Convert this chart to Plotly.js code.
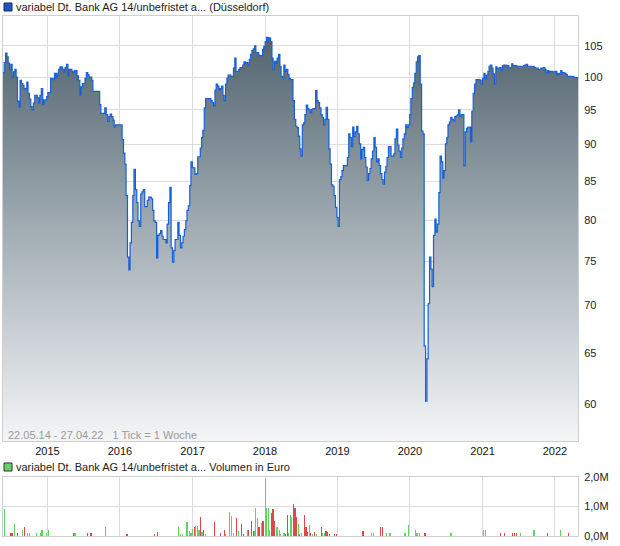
<!DOCTYPE html>
<html>
<head>
<meta charset="utf-8">
<script src="https://cdn.plot.ly/plotly-3.0.1.min.js"></script>
<style>
  html, body { margin: 0; padding: 0; background: #ffffff; }
  #chart { width: 620px; height: 546px; }
</style>
</head>
<body>
<div id="chart"></div>
<script>
// ---- Data ----
const startDate = '2014-05-22';
const endDate = '2022-04-27';

// weekly closing prices, split into consecutive stretches
const price2014to2015 = [
  100.7,102.3,103.8,103.2,102.2,101.2,102.0,100.0,100.8,101.2,
  100.0,96.3,95.4,99.5,99.0,98.7,98.2,98.2,99.2,97.5,
  96.6,95.5,95.0,96.0,97.2,97.2,96.8,96.0,97.2,98.2,
  95.8,96.5,96.5,97.0,97.6,97.6,99.8,99.8,99.6,100.6,
  100.0,100.6,101.2,101.6,101.6,101.2,100.8,101.5,102.0,100.2,
  101.2,101.2,100.9,100.7,101.0,101.0,100.2,99.5,97.2,98.5,
  99.0,99.0,99.8,100.7,100.4,100.0,100.0,99.5,97.8,97.8,
  97.8,97.8,97.8,95.8,94.5,94.5,94.5,95.3,94.3,93.3,
  94.0,94.4,94.0,93.5,92.5
];
const price2015to2017 = [
  92.8,92.8,92.8,92.8,92.8,90.7,88.8,87.3,83.1,75.5,
  74.0,77.2,79.7,83.1,86.6,83.9,82.2,79.9,79.2,83.3,
  83.6,83.9,81.7,81.7,82.5,82.9,82.9,82.7,81.2,79.9,
  79.7,75.4,78.1,78.3,78.7,78.0,77.6,77.6,77.2,79.5,
  82.2,84.2,76.6,74.9,76.3,77.6,77.6,79.7,78.1,76.6,
  77.2,78.0,78.8,79.9,81.2,81.8,84.4,87.6,86.8,86.8,
  85.9,86.0,88.3,88.3,89.5,91.0,92.0,95.3,96.7,96.7,
  96.7,96.7,96.4,96.1,95.6,98.0,98.9,98.6,98.0,98.2,
  98.6,97.2,96.4,98.9,99.8,100.3,100.3
];
const price2017to2019 = [
  100.1,100.1,101.4,103.0,100.9,100.9,101.2,101.5,101.5,101.9,
  102.4,102.2,102.3,101.9,102.8,103.6,104.2,104.5,105.0,103.8,
  103.9,103.5,103.4,103.4,104.4,104.9,105.7,106.4,106.1,106.3,
  105.7,103.0,101.2,102.5,102.2,103.0,103.6,101.7,100.1,99.9,
  101.9,100.9,101.2,100.4,99.8,99.6,99.6,96.4,93.6,92.6,
  92.4,91.2,89.4,88.4,92.8,93.1,94.3,95.7,95.2,95.0,
  94.6,95.1,95.2,95.2,97.9,96.4,96.1,95.3,94.3,93.9,
  92.8,93.6,95.4,93.6,89.4,87.3,84.5,84.3,83.1,81.6,
  80.3,79.2,85.2,85.6,86.4,87.1,87.1
];
const price2019to2020 = [
  87.1,88.2,91.5,91.0,89.7,92.5,91.1,91.8,92.6,91.5,
  90.1,88.0,89.3,89.6,88.2,86.9,85.1,86.0,86.7,88.0,
  89.1,91.0,89.6,87.6,88.0,87.1,86.0,85.2,84.6,86.2,
  87.0,88.2,89.7,89.7,88.4,88.4,88.7,90.8,92.2,89.9,
  89.1,88.2,89.5,90.8,91.5,92.8,92.4,92.8,94.3,96.7,
  98.4,99.1,100.6,102.4,103.2,103.4,98.9,91.9,91.5,65.7,
  60.3,64.4,70.2,75.5,74.1,72.1,78.1,80.1,78.5,79.5,
  83.5,88.4,87.6,85.4,86.4,90.1,91.0,92.8,93.2,93.9,
  93.6,93.4,94.0,94.1,94.3,95.0,94.0
];
const price2020to2022 = [
  94.3,94.3,87.1,91.8,92.3,92.5,92.5,90.4,94.8,97.5,
  98.9,99.6,99.6,99.6,99.5,98.9,99.8,100.6,99.7,100.3,
  100.9,101.7,101.9,101.4,100.5,98.9,101.6,101.4,101.4,101.5,
  101.1,101.8,101.9,101.9,101.7,101.8,101.4,101.5,102.1,101.8,
  101.8,101.8,101.7,101.7,101.7,101.7,101.7,101.8,101.9,102.0,
  101.7,101.7,101.7,101.7,101.7,101.5,101.4,101.4,101.2,101.2,
  101.4,101.4,101.5,101.2,100.6,101.0,100.7,100.9,100.9,100.8,
  100.8,100.9,100.3,100.6,100.4,101.0,100.7,100.7,100.6,100.4,
  100.1,100.1,100.1,100.1,100.1,99.9,99.9,99.9,99.7
];

// volume in million euro (green = up week, red = down week)
const volUpDates = ['2014-05-29','2014-07-18','2014-08-27','2014-09-23','2014-10-01','2014-11-06','2014-11-26','2014-12-04','2014-12-28','2015-01-05',
  '2015-05-20','2015-10-21','2016-10-24','2016-11-01','2016-11-13','2016-12-04','2016-12-16','2016-12-24','2017-01-02','2017-01-17',
  '2017-01-25','2017-02-02','2017-02-18','2017-03-06','2017-06-17','2017-07-07','2017-07-15','2017-07-27','2017-08-20','2017-10-03',
  '2017-11-10','2017-11-16','2017-11-24','2017-12-14','2018-01-02','2018-01-09','2018-01-17','2018-01-25','2018-02-26','2018-03-06',
  '2018-03-14','2018-03-22','2018-04-07','2018-04-30','2018-05-08','2018-05-16','2018-06-17','2018-07-03','2018-08-12','2018-08-28',
  '2018-09-17','2018-10-19','2018-10-27','2019-06-23','2019-07-01','2019-09-07','2019-09-23','2019-12-07','2019-12-27','2020-01-29',
  '2020-02-06','2020-02-18','2020-07-26','2020-07-30','2021-01-05','2021-01-17','2021-07-11','2021-09-17','2021-09-21','2022-01-27'];
const volUpValues = [0.93,0.40,0.20,0.10,0.10,0.10,0.10,0.20,0.10,0.20,
  0.10,0.29,0.32,0.06,0.06,0.47,0.17,0.09,0.24,0.34,
  0.34,0.20,0.15,0.06,0.06,0.83,0.69,0.09,0.17,0.20,
  0.17,0.95,0.60,0.43,1.92,0.95,0.95,0.20,0.32,0.32,
  0.20,0.06,0.09,0.09,0.72,0.63,0.40,0.09,0.38,0.06,
  0.06,0.09,0.09,0.09,0.09,0.09,0.09,0.09,0.38,0.20,
  0.09,0.09,0.09,0.09,0.20,0.20,0.09,0.20,0.20,0.20];
const volDownDates = ['2014-06-28','2014-07-06','2014-08-03','2014-09-08','2015-05-12','2015-07-23','2015-08-08','2016-02-06','2016-06-24','2016-07-10',
  '2017-01-09','2017-02-10','2017-02-26','2017-04-22','2017-05-20','2017-06-09','2017-08-12','2017-09-05','2017-09-13','2017-10-11',
  '2017-10-23','2017-11-04','2017-12-02','2017-12-22','2018-02-02','2018-02-10','2018-02-18','2018-04-15','2018-04-23','2018-05-24',
  '2018-06-01','2018-06-09','2018-06-25','2018-07-19','2018-07-27','2018-08-04','2018-08-20','2018-09-09','2018-10-11','2018-11-04',
  '2018-11-12','2018-11-20','2018-12-18','2018-12-26','2019-05-10','2019-08-06','2019-08-14','2020-03-17','2021-04-03','2021-04-22',
  '2021-06-01','2021-06-13','2021-06-21','2021-11-24','2022-03-12'];
const volDownValues = [0.10,0.10,0.10,0.32,0.10,0.10,0.10,0.06,0.06,0.13,
  0.29,0.63,0.20,0.49,0.09,0.20,0.60,0.42,0.06,0.20,
  0.51,0.17,0.32,0.51,0.78,0.91,0.51,0.06,0.72,1.09,
  0.95,0.63,0.06,0.72,0.29,0.15,0.09,0.15,0.29,0.17,
  0.15,0.06,0.06,0.06,0.17,0.29,0.29,0.09,0.09,0.09,
  0.09,0.09,0.09,0.09,0.09];

const priceTicks = [60, 65, 70, 75, 80, 85, 90, 95, 100, 105];
const volTicks = [0, 1, 2];
const volTickText = ['0,0M', '1,0M', '2,0M'];
const seriesName = 'variabel Dt. Bank AG 14/unbefristet a...';

// ---- Build ----
const prices = [].concat(price2014to2015, price2015to2017, price2017to2019, price2019to2020, price2020to2022);
const t0 = new Date(startDate + 'T00:00:00Z').getTime();
const t1 = new Date(endDate + 'T00:00:00Z').getTime();
const step = (t1 - t0) / (prices.length - 1);
const dates = prices.map((_, i) => new Date(t0 + i * step).toISOString().slice(0, 10));

const FONT = 'Liberation Sans, Arial, sans-serif';
const W = 620, H = 546;
const L = 3, R = 42, T = 16, B = 10;
const pw = W - L - R, ph = H - T - B;
const px = (x) => (x - L) / pw;
const py = (y) => (H - B - y) / ph;

const yLo = 56.66, yHi = 110;

const traces = [
  {
    x: dates, y: prices, type: 'scatter', mode: 'lines',
    line: { color: '#1560d8', width: 1.2, shape: 'hv' },
    fill: 'tozeroy',
    fillgradient: {
      type: 'vertical', start: yLo, stop: yHi,
      colorscale: [[0, '#f4f5f7'], [0.5, '#a1acb3'], [1, '#4a5c68']]
    },
    xaxis: 'x', yaxis: 'y', hoverinfo: 'skip', showlegend: false
  },
  {
    x: volUpDates, y: volUpValues, type: 'bar',
    marker: { color: '#5fd35f', line: { width: 0 } },
    width: 6 * 86400000,
    xaxis: 'x2', yaxis: 'y2', hoverinfo: 'skip', showlegend: false
  },
  {
    x: volDownDates, y: volDownValues, type: 'bar',
    marker: { color: '#e04848', line: { width: 0 } },
    width: 6 * 86400000,
    xaxis: 'x2', yaxis: 'y2', hoverinfo: 'skip', showlegend: false
  }
];

const gridC = '#dcdcdc';
const frameC = '#cfcfcf';
const xCommon = {
  type: 'date', range: [startDate, endDate],
  dtick: 'M12', tick0: '2015-01-01', tickformat: '%Y',
  showgrid: true, gridcolor: gridC, gridwidth: 1,
  showline: true, linecolor: frameC, linewidth: 1, mirror: true,
  zeroline: false, ticks: '', fixedrange: true
};

const layout = {
  width: W, height: H,
  margin: { l: L, r: R, t: T, b: B, pad: 0 },
  paper_bgcolor: '#ffffff', plot_bgcolor: '#ffffff',
  font: { family: FONT, size: 11, color: '#222' },
  showlegend: false, bargap: 0,
  xaxis: Object.assign({}, xCommon, {
    anchor: 'y', showticklabels: true,
    tickfont: { family: FONT, size: 11, color: '#111' }
  }),
  xaxis2: Object.assign({}, xCommon, {
    anchor: 'y2', matches: 'x', showticklabels: false
  }),
  yaxis: {
    type: 'log', range: [Math.log10(yLo), Math.log10(yHi)],
    domain: [py(441), 1], anchor: 'x', side: 'right',
    tickvals: priceTicks, ticktext: priceTicks.map(String),
    showgrid: true, gridcolor: gridC, gridwidth: 1,
    showline: true, linecolor: frameC, linewidth: 1, mirror: true,
    zeroline: false, ticks: 'outside', ticklen: 3, tickcolor: 'rgba(0,0,0,0)',
    tickfont: { family: FONT, size: 11, color: '#222' }, fixedrange: true
  },
  yaxis2: {
    range: [0, 2], domain: [0, py(477)], anchor: 'x2', side: 'right',
    tickvals: volTicks, ticktext: volTickText,
    showgrid: true, gridcolor: gridC, gridwidth: 1,
    showline: true, linecolor: frameC, linewidth: 1, mirror: true,
    zeroline: false, ticks: 'outside', ticklen: 3, tickcolor: 'rgba(0,0,0,0)',
    tickfont: { family: FONT, size: 11, color: '#222' }, fixedrange: true
  },
  shapes: [
    { type: 'rect', xref: 'paper', yref: 'paper', x0: px(4), x1: px(12), y0: py(11), y1: py(3),
      fillcolor: '#1f55c0', line: { color: '#1a2a55', width: 1 } },
    { type: 'rect', xref: 'paper', yref: 'paper', x0: px(4), x1: px(12), y0: py(471), y1: py(463),
      fillcolor: '#66d166', line: { color: '#333333', width: 1 } }
  ],
  annotations: [
    { xref: 'paper', yref: 'paper', x: px(14), y: py(7), xanchor: 'left', yanchor: 'middle',
      text: seriesName + ' (Düsseldorf)', showarrow: false,
      font: { family: FONT, size: 11, color: '#222' } },
    { xref: 'paper', yref: 'paper', x: px(14), y: py(467), xanchor: 'left', yanchor: 'middle',
      text: seriesName + ' Volumen in Euro', showarrow: false,
      font: { family: FONT, size: 11, color: '#222' } },
    { xref: 'paper', yref: 'paper', x: px(6), y: py(435), xanchor: 'left', yanchor: 'middle',
      text: '22.05.14 - 27.04.22&nbsp;&nbsp;&nbsp;1 Tick = 1 Woche', showarrow: false,
      font: { family: FONT, size: 11, color: '#9a9a9a' } }
  ]
};

Plotly.newPlot('chart', traces, layout, { displayModeBar: false, staticPlot: true });
</script>
</body>
</html>
